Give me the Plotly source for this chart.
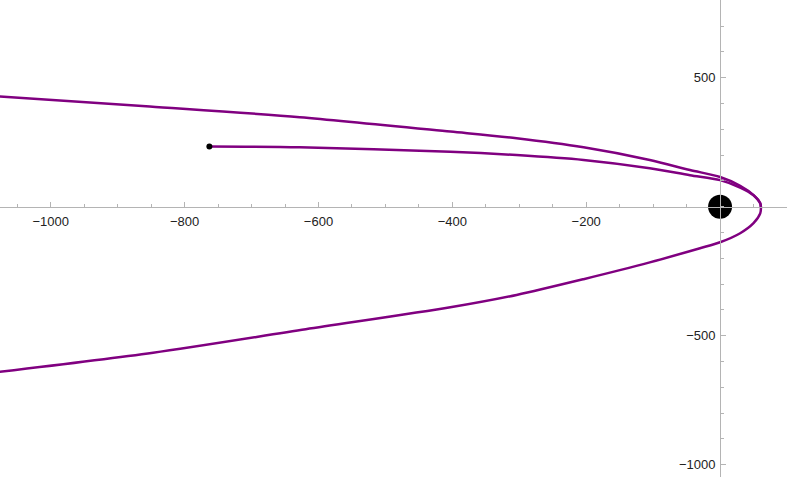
import plotly.graph_objects as go

# outer orbit: upper-left branch -> pericentre -> lower-left branch
orbit_x = [-1076, -852, -628, -403, -304, -204, -105, -45, 0, 30, 50, 60, 61,
           60, 50, 30, 0, -30, -105, -204, -304, -403, -619, -847, -1076]
orbit_y = [427, 388, 347, 291, 265, 230, 181, 142, 115, 81, 45, 13, -2,
           -26, -64, -103, -138, -161, -216, -281, -342, -390, -475, -566, -640]

# inner path: pericentre -> current position
path_x = [61, 60, 50, 30, 0, -45, -105, -204, -304, -403, -628, -763]
path_y = [-2, 13, 44, 74, 103, 122, 149, 181, 200, 213, 230, 233]

body_x, body_y = [0], [0]
probe_x, probe_y = [-763], [233]

x_ticks = [-1000, -800, -600, -400, -200]
y_ticks = [-1000, -500, 500]

X_RANGE = [-1075.8, 100.0]
Y_RANGE = [-1047.7, 801.0]

PURPLE = "#800080"
AXIS = "#b4b4b4"
FONT = "Liberation Sans, Arial, sans-serif"

fig = go.Figure()
for xs, ys in [(orbit_x, orbit_y), (path_x, path_y)]:
    fig.add_trace(go.Scatter(x=xs, y=ys, mode="lines",
                             line=dict(color=PURPLE, width=2.5,
                                       shape="spline", smoothing=0.8)))
fig.add_trace(go.Scatter(x=body_x, y=body_y, mode="markers",
                         marker=dict(color="black", size=24)))
fig.add_trace(go.Scatter(x=probe_x, y=probe_y, mode="markers",
                         marker=dict(color="black", size=6)))

# axes cross at the origin, as in the source
x_pos = (0 - Y_RANGE[0]) / (Y_RANGE[1] - Y_RANGE[0])
y_pos = (0 - X_RANGE[0]) / (X_RANGE[1] - X_RANGE[0])

fig.update_layout(
    width=789, height=488,
    margin=dict(l=0, r=2, t=0, b=11, pad=0, autoexpand=False),
    paper_bgcolor="white", plot_bgcolor="white",
    showlegend=False,
    font=dict(family=FONT, size=13, color="#222"),
    xaxis=dict(
        range=X_RANGE, anchor="free", position=x_pos,
        showgrid=False, zeroline=False, automargin=False,
        showline=True, linecolor=AXIS, linewidth=1,
        ticks="inside", ticklen=5, tickcolor=AXIS,
        tickvals=x_ticks, ticktext=[f"\u2212{abs(v)}" for v in x_ticks],
        ticklabelstandoff=3,
        minor=dict(dtick=50, tick0=0, ticks="inside", ticklen=3,
                   tickcolor=AXIS),
    ),
    yaxis=dict(
        range=Y_RANGE, anchor="free", position=y_pos,
        showgrid=False, zeroline=False, automargin=False,
        showline=True, linecolor=AXIS, linewidth=1,
        ticks="inside", ticklen=5, tickcolor=AXIS,
        tickvals=y_ticks,
        ticktext=[f"\u2212{abs(v)}" if v < 0 else str(v) for v in y_ticks],
        ticklabelstandoff=2,
        minor=dict(dtick=100, tick0=0, ticks="inside", ticklen=3,
                   tickcolor=AXIS),
    ),
)

# drop the browser's default 8px body margin so the figure sits at 0,0
fig.write_html("out.html", config={"displayModeBar": False},
               post_script="document.body.style.margin='0';")
